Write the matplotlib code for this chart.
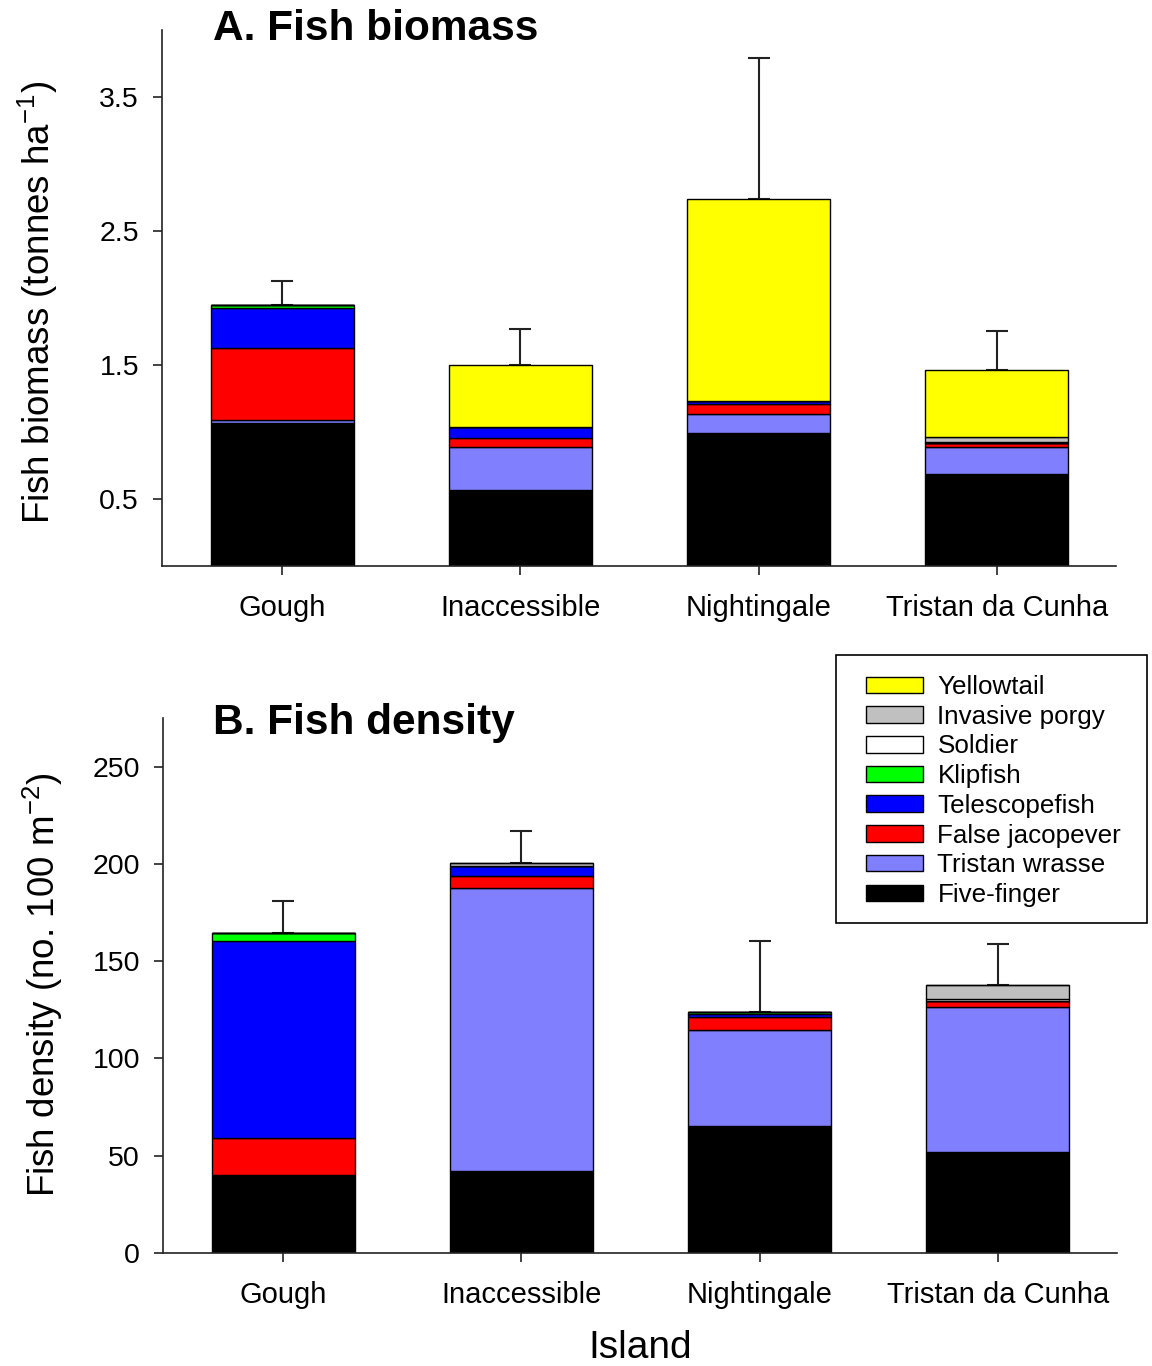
import numpy as np
import matplotlib
matplotlib.use('Agg')
import matplotlib.pyplot as plt
from matplotlib.patches import Rectangle

plt.rcParams['font.family'] = ['Liberation Sans', 'DejaVu Sans']
plt.rcParams['mathtext.fontset'] = 'custom'
plt.rcParams['mathtext.rm'] = 'Liberation Sans'
plt.rcParams['mathtext.it'] = 'Liberation Sans:italic'
plt.rcParams['mathtext.bf'] = 'Liberation Sans:bold'

# islands and species (stacked bottom -> top)
islands = ['Gough', 'Inaccessible', 'Nightingale', 'Tristan da Cunha']
species = ['Five-finger', 'Tristan wrasse', 'False jacopever', 'Telescopefish',
           'Klipfish', 'Soldier', 'Invasive porgy', 'Yellowtail']
colours = ['#000000', '#8080FF', '#FF0000', '#0000FF',
           '#00FF00', '#FFFFFF', '#C0C0C0', '#FFFF00']

# A. biomass (tonnes/ha), one list per species, values per island
bio_five_finger = [1.067, 0.567, 0.990, 0.687]
bio_wrasse      = [0.020, 0.323, 0.144, 0.203]
bio_jacopever   = [0.543, 0.067, 0.073, 0.030]
bio_telescope   = [0.293, 0.080, 0.022, 0.000]
bio_klipfish    = [0.022, 0.000, 0.000, 0.000]
bio_soldier     = [0.000, 0.000, 0.000, 0.005]
bio_porgy       = [0.000, 0.000, 0.000, 0.035]
bio_yellowtail  = [0.000, 0.463, 1.511, 0.503]
bio_err         = [0.182, 0.269, 1.049, 0.291]

# B. density (no. per 100 m2)
den_five_finger = [39.6, 42.0, 65.5, 52.0]
den_wrasse      = [0.7, 145.8, 49.1, 74.7]
den_jacopever   = [18.8, 6.1, 6.8, 2.9]
den_telescope   = [101.3, 5.2, 1.2, 0.0]
den_klipfish    = [3.9, 0.0, 1.4, 0.0]
den_soldier     = [0.0, 0.0, 0.0, 0.8]
den_porgy       = [0.0, 1.4, 0.0, 7.2]
den_yellowtail  = [0.0, 0.0, 0.0, 0.0]
den_err         = [16.4, 16.5, 36.5, 21.4]

bio = [bio_five_finger, bio_wrasse, bio_jacopever, bio_telescope,
       bio_klipfish, bio_soldier, bio_porgy, bio_yellowtail]
den = [den_five_finger, den_wrasse, den_jacopever, den_telescope,
       den_klipfish, den_soldier, den_porgy, den_yellowtail]

W, H = 1152, 1366
fig = plt.figure(figsize=(W / 100, H / 100), dpi=100)

def px_axes(l, t, r, b):
    return fig.add_axes([l / W, 1 - b / H, (r - l) / W, (b - t) / H])

ax1 = px_axes(162, 30, 1116, 566)
ax2 = px_axes(163, 718, 1117, 1253)

x = np.arange(len(islands))
handles = []

def draw(ax, data, err, ylim, yticks):
    bottom = np.zeros(len(islands))
    for name, vals, col in zip(species, data, colours):
        vals = np.array(vals)
        b = ax.bar(x, vals, 0.6, bottom=bottom, color=col, edgecolor='black',
                   linewidth=1.0, label=name, zorder=2)
        if ax is ax1:
            handles.append(b)
        bottom = bottom + vals
    ax.errorbar(x, bottom, yerr=[np.zeros(len(err)), err], fmt='none',
                ecolor='#222222', elinewidth=1.5, capsize=8, capthick=1.5, zorder=1)
    ax.set_xlim(-0.504, 3.5)
    ax.set_ylim(*ylim)
    ax.set_yticks(yticks)
    ax.set_xticks(x)
    ax.set_xticklabels(islands)
    for s in ['top', 'right']:
        ax.spines[s].set_visible(False)
    for s in ['left', 'bottom']:
        ax.spines[s].set_linewidth(1.2)
        ax.spines[s].set_color('#222222')
    ax.tick_params(axis='both', direction='out', length=6.5, width=1.2,
                   color='#222222')
    ax.tick_params(axis='x', pad=14, labelsize=21)
    ax.tick_params(axis='y', pad=10, labelsize=20.5)

draw(ax1, bio, bio_err, (0, 4.0), [0.5, 1.5, 2.5, 3.5])
ax1.set_yticklabels(['0.5', '1.5', '2.5', '3.5'])
draw(ax2, den, den_err, (0, 275), [0, 50, 100, 150, 200, 250])

fig.text(213 / W, 1 - 29 / H, 'A. Fish biomass', fontsize=30.5, fontweight='bold',
         ha='left', va='center')
fig.text(213 / W, 1 - 723 / H, 'B. Fish density', fontsize=30.5, fontweight='bold',
         ha='left', va='center')
fig.text(38 / W, 1 - 302 / H, 'Fish biomass (tonnes ha$^{-1}$)', fontsize=26.5,
         rotation=90, ha='center', va='center')
fig.text(43 / W, 1 - 985 / H, 'Fish density (no. 100 m$^{-2}$)', fontsize=26.5,
         rotation=90, ha='center', va='center')
fig.text(640 / W, 1 - 1348 / H, 'Island', fontsize=28, ha='center', va='center')

# legend box drawn separately so the padding matches
fig.patches.append(Rectangle((836 / W, 1 - 923 / H), (1147 - 836) / W, (923 - 655) / H,
                             transform=fig.transFigure, facecolor='white',
                             edgecolor='black', linewidth=1.2, zorder=5))
leg = fig.legend(handles[::-1], species[::-1], loc='upper left',
                 bbox_to_anchor=(866 / W, 1 - 675 / H), fontsize=18.7,
                 frameon=False, handlelength=2.2, handleheight=0.6,
                 handletextpad=0.55, labelspacing=0.22, borderpad=0,
                 borderaxespad=0)
leg.set_zorder(6)

fig.savefig('out.png', dpi=100, facecolor='white')
